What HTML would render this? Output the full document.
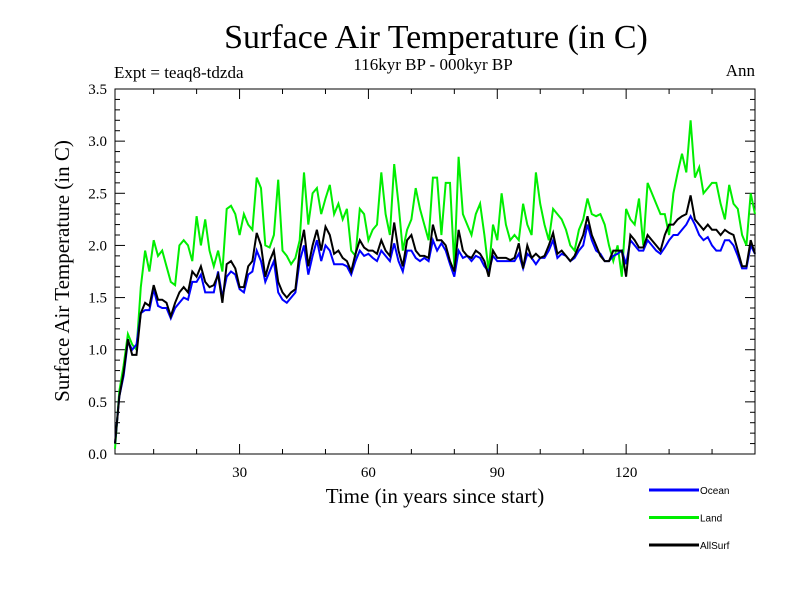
<!DOCTYPE html>
<html><head><meta charset="utf-8"><style>
body{margin:0;background:#fff;}
svg{display:block;font-family:"Liberation Serif",serif;}
</style></head><body>
<svg id="chart" width="800" height="600">
<rect width="800" height="600" fill="#fff"/>
<text x="436" y="48" font-size="34" text-anchor="middle">Surface Air Temperature (in C)</text>
<text x="433" y="70" font-size="17" text-anchor="middle">116kyr BP - 000kyr BP</text>
<text x="114" y="78" font-size="17">Expt = teaq8-tdzda</text>
<text x="755" y="76" font-size="17" text-anchor="end">Ann</text>
<text x="435" y="503" font-size="21" text-anchor="middle">Time (in years since start)</text>
<text transform="translate(69,271) rotate(-90)" font-size="21" text-anchor="middle">Surface Air Temperature (in C)</text>
<g id="axes"></g>
<g id="series"></g>
<g id="legend"></g>
</svg>
<script>
const xTicks=[30,60,90,120];
const yTicks=[0.0,0.5,1.0,1.5,2.0,2.5,3.0,3.5];
const seriesNames=["Ocean","Land","AllSurf"];
const land=[0.05,0.6,0.85,1.15,1.05,1.0,1.6,1.95,1.75,2.05,1.9,1.95,1.8,1.65,1.62,2.0,2.05,2.0,1.85,2.28,2.0,2.25,1.95,1.8,1.95,1.75,2.35,2.38,2.3,2.1,2.3,2.2,2.15,2.65,2.55,2.0,1.98,2.1,2.63,1.95,1.9,1.82,1.88,2.05,2.7,2.2,2.5,2.55,2.3,2.45,2.58,2.3,2.4,2.25,2.35,1.95,1.9,2.35,2.3,2.05,2.15,2.2,2.7,2.3,2.1,2.78,2.4,1.95,2.15,2.25,2.55,2.35,2.2,2.05,2.65,2.65,2.1,2.6,2.6,1.8,2.85,2.3,2.2,2.1,2.3,2.4,2.1,1.75,2.2,2.05,2.5,2.2,2.05,2.1,2.05,2.4,2.2,2.1,2.7,2.4,2.2,2.05,2.35,2.3,2.25,2.15,2.0,1.95,2.15,2.25,2.45,2.3,2.28,2.3,2.2,2.0,1.85,2.0,1.7,2.35,2.25,2.2,2.45,2.0,2.6,2.5,2.4,2.3,2.3,2.1,2.5,2.7,2.88,2.7,3.2,2.65,2.75,2.5,2.55,2.6,2.6,2.4,2.25,2.58,2.4,2.35,2.1,2.0,2.5,2.3];
const ocean=[0.1,0.55,0.75,1.08,1.0,1.05,1.35,1.38,1.38,1.58,1.42,1.4,1.4,1.3,1.4,1.45,1.5,1.48,1.65,1.65,1.72,1.55,1.55,1.55,1.75,1.5,1.7,1.75,1.72,1.58,1.55,1.72,1.75,1.95,1.85,1.65,1.75,1.85,1.55,1.48,1.45,1.5,1.55,1.85,2.0,1.72,1.9,2.05,1.85,2.0,1.95,1.82,1.82,1.82,1.8,1.72,1.85,1.95,1.9,1.92,1.88,1.85,1.95,1.9,1.85,2.02,1.85,1.75,1.95,1.95,1.88,1.85,1.88,1.85,2.05,1.95,2.02,1.95,1.82,1.7,1.95,1.88,1.9,1.85,1.9,1.88,1.8,1.75,1.9,1.85,1.85,1.85,1.85,1.85,1.92,1.78,1.92,1.88,1.82,1.88,1.88,1.95,2.05,1.88,1.92,1.9,1.85,1.88,1.95,2.0,2.2,2.05,1.95,1.92,1.85,1.85,1.9,1.92,1.95,1.82,2.05,2.0,1.95,1.95,2.05,2.0,1.95,1.92,1.98,2.05,2.1,2.1,2.15,2.2,2.28,2.2,2.1,2.05,2.08,2.0,1.95,1.95,2.05,2.05,2.0,1.9,1.78,1.78,2.0,1.92];
const allsurf=[0.1,0.55,0.78,1.1,0.95,0.95,1.35,1.45,1.42,1.62,1.48,1.48,1.45,1.32,1.45,1.55,1.6,1.55,1.75,1.7,1.8,1.65,1.6,1.62,1.72,1.45,1.82,1.85,1.78,1.6,1.6,1.8,1.85,2.12,2.0,1.7,1.85,1.95,1.65,1.55,1.5,1.55,1.58,1.95,2.15,1.8,2.0,2.15,1.95,2.18,2.1,1.92,1.95,1.88,1.85,1.75,1.92,2.05,1.98,1.95,1.95,1.92,2.05,1.95,1.9,2.22,1.95,1.8,2.05,2.1,1.95,1.9,1.9,1.88,2.2,2.05,2.05,2.0,1.85,1.75,2.15,1.95,1.9,1.88,1.95,1.92,1.85,1.7,1.95,1.88,1.88,1.88,1.86,1.88,2.02,1.78,2.0,1.88,1.92,1.88,1.9,2.0,2.12,1.92,1.95,1.9,1.85,1.9,2.0,2.1,2.28,2.1,2.0,1.9,1.85,1.85,1.95,1.95,1.95,1.7,2.1,2.05,1.98,1.98,2.1,2.05,2.0,1.95,2.1,2.2,2.2,2.25,2.28,2.3,2.48,2.25,2.2,2.15,2.2,2.15,2.15,2.1,2.15,2.12,2.1,1.95,1.8,1.8,2.05,1.92];

const NS="http://www.w3.org/2000/svg";
const L=115,R=755,T=89,B=454,X0=1,X1=150,Y0=0,Y1=3.5;
const xs=v=>L+(v-X0)/(X1-X0)*(R-L);
const ys=v=>B-(v-Y0)/(Y1-Y0)*(B-T);
function mk(tag,attrs,parent){const e=document.createElementNS(NS,tag);for(const k in attrs)e.setAttribute(k,attrs[k]);parent.appendChild(e);return e;}
const axes=document.getElementById('axes');
const frame=mk('rect',{x:L,y:T,width:R-L,height:B-T,fill:'none',stroke:'#000','stroke-width':1},axes);


// x ticks (minor every 10)
for(let v=10;v<X1;v+=10){
  const x=xs(v);const len=(v%30===0)?10:5;
  mk('line',{x1:x,y1:B,x2:x,y2:B-len,stroke:'#000'},axes);
  mk('line',{x1:x,y1:T,x2:x,y2:T+len,stroke:'#000'},axes);
}
xTicks.forEach(v=>{
  const t=mk('text',{x:xs(v),y:B+23,'font-size':15,'text-anchor':'middle'},axes);
  t.textContent=v;
  
  
});
for(let i=0;i<=35;i++){
  const v=i/10;const y=ys(v);const len=(i%5===0)?10:5;
  mk('line',{x1:L,y1:y,x2:L+len,y2:y,stroke:'#000'},axes);
  mk('line',{x1:R,y1:y,x2:R-len,y2:y,stroke:'#000'},axes);
}
yTicks.forEach(v=>{
  const t=mk('text',{x:L-8,y:ys(v)+5,'font-size':15,'text-anchor':'end'},axes);
  t.textContent=v.toFixed(1);
  
  
});
const sg=document.getElementById('series');
const colors=['#0000ff','#00ee00','#000000'];
const datasets=[land,ocean,allsurf];
const order=[1,0,2];
[[land,'#00ee00','land-line'],[ocean,'#0000ff','ocean-line'],[allsurf,'#000000','allsurf-line']].forEach(([d,c,n])=>{
  const pts=d.map((v,i)=>xs(i+1).toFixed(1)+','+ys(v).toFixed(1)).join(' ');
  const p=mk('polyline',{points:pts,fill:'none',stroke:c,'stroke-width':2,'stroke-linejoin':'miter'},sg);
  
  
});
const lg=document.getElementById('legend');
seriesNames.forEach((n,i)=>{
  const y=490+i*27.5;
  const g=mk('g',{},lg);
  
  
  mk('line',{x1:649,y1:y,x2:699,y2:y,stroke:colors[i],'stroke-width':3},g);
  const t=mk('text',{x:700,y:y+4,'font-size':10,'font-family':'Liberation Sans, sans-serif'},g);
  t.textContent=n;
});
</script>
</body></html>
